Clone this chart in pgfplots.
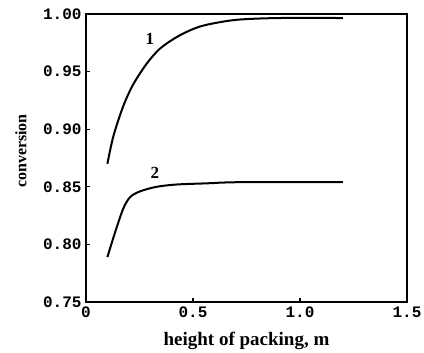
\documentclass[border=0pt]{standalone}
\usepackage{fontspec}
\setmainfont{Liberation Serif}
\newfontfamily\tickfont{Liberation Mono}
\usepackage{pgfplots}
\pgfplotsset{compat=1.18}
\begin{document}
\begin{tikzpicture}
\begin{axis}[
  scale only axis,
  width=321pt, height=288pt,
  xmin=0, xmax=1.5, ymin=0.75, ymax=1.0,
  xtick={0,0.5,1.0,1.5}, xticklabels={0,0.5,1.0,1.5},
  ytick={0.75,0.80,0.85,0.90,0.95,1.00},
  yticklabels={0.75,0.80,0.85,0.90,0.95,1.00},
  xtick pos=left, ytick pos=left,
  tick align=inside,
  major tick length=4pt,
  axis line style={line width=1.6pt},
  tick style={line width=1.2pt, black},
  ticklabel style={font=\fontsize{16}{18}\selectfont\tickfont\bfseries},
  yticklabel style={xshift=-1pt},
  xticklabel style={yshift=-1pt},
  xlabel={\fontsize{19}{21}\selectfont\bfseries height of packing, m},
  ylabel={\fontsize{16}{18}\selectfont\bfseries conversion},
  xlabel style={at={(axis description cs:0.5,0)}, anchor=center, yshift=-39pt},
  ylabel style={at={(axis description cs:0,0.5)}, anchor=center, yshift=65pt, xshift=7pt},
  clip=false,
]
\addplot[black, line width=2pt, smooth, tension=0.5] coordinates {
 (0.10,0.870) (0.128,0.894) (0.174,0.920) (0.221,0.939) (0.284,0.957)
 (0.346,0.970) (0.424,0.980) (0.501,0.987) (0.572,0.991) (0.706,0.995)
 (0.90,0.9965) (1.20,0.9965)
};
\addplot[black, line width=2pt, smooth, tension=0.5] coordinates {
 (0.10,0.789) (0.136,0.8105) (0.174,0.831) (0.206,0.841) (0.252,0.846)
 (0.330,0.850) (0.424,0.852) (0.564,0.853) (0.72,0.854) (1.20,0.854)
};
\node[font=\fontsize{17}{19}\selectfont\bfseries] at (axis cs:0.299,0.978) {1};
\node[font=\fontsize{17}{19}\selectfont\bfseries] at (axis cs:0.322,0.862) {2};
\coordinate (sw) at (rel axis cs:0,0);
\coordinate (ne) at (rel axis cs:1,1);
\end{axis}
\pgfresetboundingbox
\path ([shift={(-86pt,-51pt)}]sw) rectangle ([shift={(17pt,14pt)}]ne);
\end{tikzpicture}
\end{document}
